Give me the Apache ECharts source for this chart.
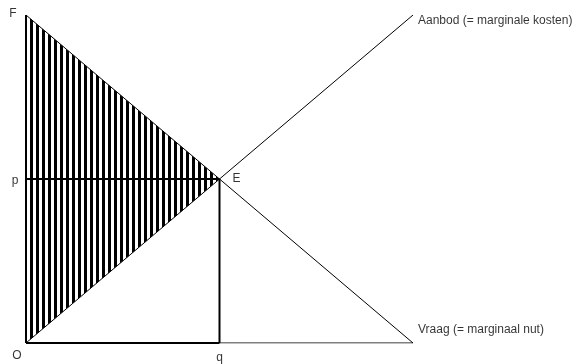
<!DOCTYPE html>
<html lang="nl">
<head>
  <meta charset="UTF-8">
  <script src="https://cdn.jsdelivr.net/npm/echarts@6/dist/echarts.min.js"></script>
  <title>Consumentensurplus</title>
</head>
<body style="margin:0;background:#fff">
  <div id="chart" style="width:578px;height:364px"></div>
  <script>
    // curves (x = hoeveelheid, y = prijs)
    const vraag = [[0, 10], [10, 0]];
    const aanbod = [[0, 0], [10, 10]];
    const evenwicht = [5, 5];
    // hatched triangle O-F-E
    const hatchX = [0, 0, 5];
    const hatchY = [0, 10, 5];
    // point labels
    const labelNames = ['F', 'p', 'E', 'O', 'q', 'Aanbod (= marginale kosten)', 'Vraag (= marginaal nut)'];
    const labelPoints = [[0, 10], [0, 5], [5, 5], [0, 0], [5, 0], [10, 10], [10, 0]];
    const labelOffsets = [[-13, -1], [-11, 2], [17, 0], [-9, 13], [0, 15], [5, 6], [5, -13]];
    const labelAlign = ['center', 'center', 'center', 'center', 'center', 'left', 'left'];

    // vertical stripe pattern
    const pat = document.createElement('canvas');
    pat.width = 6; pat.height = 6;
    const pctx = pat.getContext('2d');
    pctx.fillStyle = '#fff';
    pctx.fillRect(0, 0, 6, 6);
    pctx.fillStyle = '#000';
    pctx.fillRect(0, 0, 3, 6);

    const chart = echarts.init(document.getElementById('chart'));
    const black = '#000';
    function seg(data, width) {
      return {
        type: 'line', data: data, symbol: 'none', silent: true,
        lineStyle: { color: black, width: width }, z: 3
      };
    }
    chart.setOption({
      animation: false,
      grid: { left: 26, right: 165, top: 15, bottom: 21 },
      xAxis: { type: 'value', min: 0, max: 10, show: false },
      yAxis: { type: 'value', min: 0, max: 10, show: false },
      series: [
        {
          type: 'custom',
          data: [0],
          silent: true,
          renderItem: function (params, api) {
            const pts = hatchX.map((x, i) => api.coord([x, hatchY[i]]));
            return {
              type: 'polygon',
              shape: { points: pts },
              style: { fill: { image: pat, repeat: 'repeat' }, stroke: null }
            };
          },
          z: 1
        },
        seg(vraag, 1),
        seg(aanbod, 1),
        seg([[0, 0], [0, 10]], 2),
        seg([[0, 0], [evenwicht[0], 0]], 2),
        seg([[evenwicht[0], 0], [10, 0]], 1),
        seg([[0, evenwicht[1]], evenwicht], 2),
        seg([[evenwicht[0], 0], evenwicht], 2),
        {
          type: 'scatter',
          symbolSize: 0,
          silent: true,
          data: labelPoints.map((p, i) => ({
            value: p,
            label: {
              show: true,
              position: 'inside',
              formatter: labelNames[i],
              offset: labelOffsets[i],
              align: labelAlign[i],
              verticalAlign: 'middle',
              color: black,
              fontSize: 12,
              fontFamily: 'Liberation Sans, Arial, sans-serif'
            }
          })),
          z: 5
        }
      ]
    });
  </script>
</body>
</html>
